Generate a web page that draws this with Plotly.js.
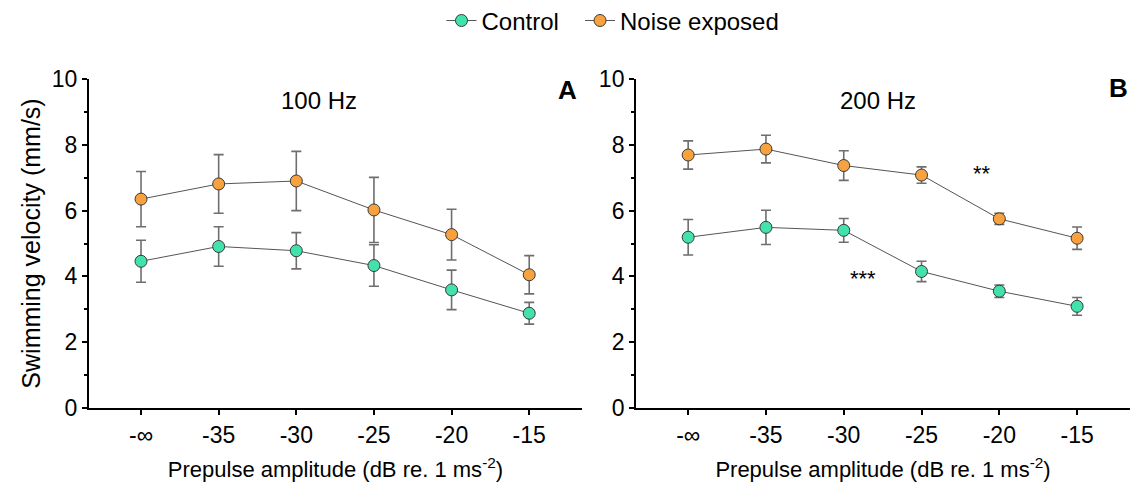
<!DOCTYPE html>
<html>
<head>
<meta charset="utf-8">
<script src="https://cdn.plot.ly/plotly-3.0.1.min.js"></script>
<style>html,body{margin:0;padding:0;background:#fff;}#chart{width:1135px;height:489px;}</style>
</head>
<body>
<div id="chart"></div>
<script>
// Data
const categories = ['-∞', '-35', '-30', '-25', '-20', '-15'];
const control100 = [4.46, 4.91, 4.78, 4.33, 3.59, 2.88];
const control100Err = [0.64, 0.60, 0.55, 0.63, 0.60, 0.33];
const noise100 = [6.35, 6.81, 6.90, 6.02, 5.27, 4.05];
const noise100Err = [0.84, 0.89, 0.90, 0.99, 0.77, 0.58];
const control200 = [5.19, 5.49, 5.40, 4.15, 3.55, 3.09];
const control200Err = [0.54, 0.52, 0.36, 0.31, 0.19, 0.27];
const noise200 = [7.69, 7.87, 7.37, 7.08, 5.75, 5.16];
const noise200Err = [0.43, 0.42, 0.45, 0.25, 0.17, 0.34];
const seriesNames = ['Control', 'Noise exposed'];
const panelTitles = ['100 Hz', '200 Hz'];
const panelLetters = ['A', 'B'];
const sigLabels = ['***', '**'];

const FONT = 'Liberation Sans, Arial, sans-serif';
const GREEN = '#42E2AE';
const ORANGE = '#F7A23E';

function trace(y, err, name, color, xa, ya, show, leg) {
  return {
    type: 'scatter', mode: 'lines+markers', x: categories, y: y, name: name,
    xaxis: xa, yaxis: ya, showlegend: show, legend: leg,
    line: {color: '#555555', width: 1},
    marker: {color: color, size: 12, line: {color: '#3a3a3a', width: 1}},
    error_y: {type: 'data', array: err, visible: true, color: '#6e6e6e', thickness: 1.6, width: 5}
  };
}

const data = [
  trace(control100, control100Err, seriesNames[0], GREEN, 'x', 'y', true, 'legend'),
  trace(noise100, noise100Err, seriesNames[1], ORANGE, 'x', 'y', true, 'legend2'),
  trace(control200, control200Err, seriesNames[0], GREEN, 'x2', 'y2', false, 'legend'),
  trace(noise200, noise200Err, seriesNames[1], ORANGE, 'x2', 'y2', false, 'legend2')
];

function xax(domain, anchor) {
  return {
    domain: domain, anchor: anchor, type: 'category', range: [-0.67, 5.68],
    showline: true, linecolor: '#000', linewidth: 2, ticks: 'outside', ticklen: 5, tickwidth: 2, tickcolor: '#000',
    showgrid: false, zeroline: false, tickfont: {family: FONT, size: 23, color: '#000'},
    title: {text: 'Prepulse amplitude (dB re. 1 ms<sup>-2</sup>)', font: {family: FONT, size: 22, color: '#000'}, standoff: 15},
    fixedrange: true
  };
}
function yax(domain, anchor, title) {
  return {
    domain: domain, anchor: anchor, range: [0, 10], tickvals: [0, 2, 4, 6, 8, 10],
    showline: true, linecolor: '#000', linewidth: 2, ticks: 'outside', ticklen: 5, tickwidth: 2, tickcolor: '#000',
    minor: {tickvals: [1, 3, 5, 7, 9], ticks: 'outside', ticklen: 3, tickwidth: 2, tickcolor: '#000'},
    showgrid: false, zeroline: false, tickfont: {family: FONT, size: 23, color: '#000'},
    title: title ? {text: title, font: {family: FONT, size: 25, color: '#000'}, standoff: 4} : {text: ''},
    fixedrange: true
  };
}

const annotations = [
  {xref: 'x', yref: 'y', x: 2.29, y: 9.36, text: panelTitles[0], showarrow: false, font: {family: FONT, size: 24, color: '#000'}},
  {xref: 'x2', yref: 'y2', x: 2.44, y: 9.36, text: panelTitles[1], showarrow: false, font: {family: FONT, size: 24, color: '#000'}},
  {xref: 'x', yref: 'y', x: 5.49, y: 9.67, text: '<b>' + panelLetters[0] + '</b>', showarrow: false, font: {family: FONT, size: 26, color: '#000'}},
  {xref: 'x2', yref: 'y2', x: 5.53, y: 9.73, text: '<b>' + panelLetters[1] + '</b>', showarrow: false, font: {family: FONT, size: 26, color: '#000'}},
  {xref: 'x2', yref: 'y2', x: 2.25, y: 3.95, text: sigLabels[0], showarrow: false, font: {family: FONT, size: 22, color: '#000'}},
  {xref: 'x2', yref: 'y2', x: 3.78, y: 7.14, text: sigLabels[1], showarrow: false, font: {family: FONT, size: 22, color: '#000'}}
];

const legendBase = {orientation: 'h', xanchor: 'left', y: 1.245, yanchor: 'top',
  font: {family: FONT, size: 24, color: '#000'}, bgcolor: 'rgba(0,0,0,0)', itemwidth: 30};

const layout = {
  width: 1135, height: 489,
  margin: {l: 89, r: 5, t: 79, b: 81, autoexpand: false},
  paper_bgcolor: '#fff', plot_bgcolor: '#fff',
  font: {family: FONT, color: '#000'},
  xaxis: xax([0, 0.4736], 'y'),
  yaxis: yax([0, 1], 'x', 'Swimming velocity (mm/s)'),
  xaxis2: xax([0.5255, 1], 'y2'),
  yaxis2: yax([0, 1], 'x2', null),
  showlegend: true,
  legend: Object.assign({}, legendBase, {x: 0.3386}),
  legend2: Object.assign({}, legendBase, {x: 0.4717}),
  annotations: annotations
};

Plotly.newPlot('chart', data, layout, {staticPlot: true, displayModeBar: false});
</script>
</body>
</html>
